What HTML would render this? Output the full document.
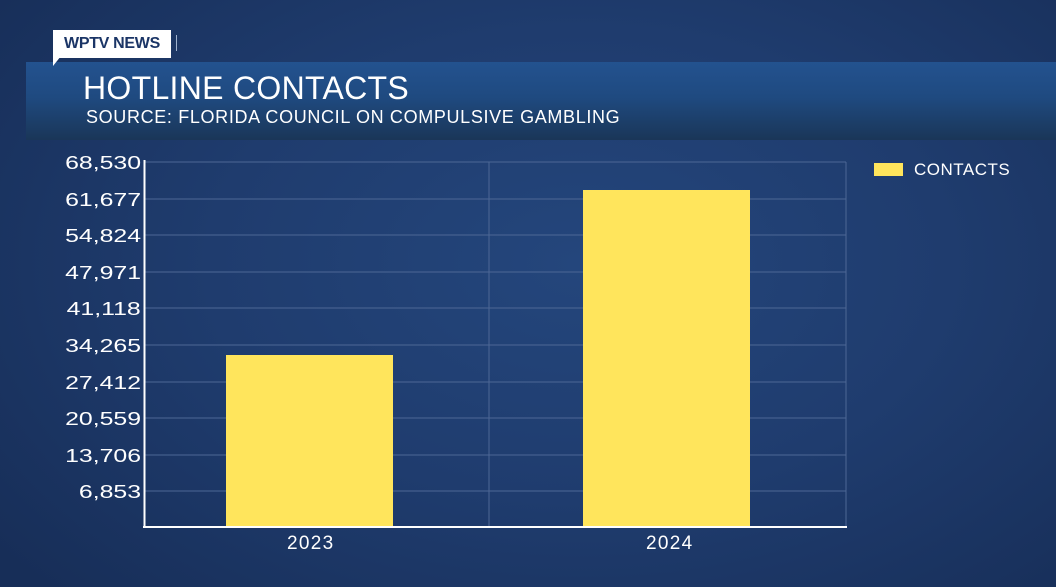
<!DOCTYPE html>
<html><head><style>
html,body{margin:0;padding:0}
body{width:1056px;height:587px;overflow:hidden;position:relative;font-family:"Liberation Sans",sans-serif;
background:radial-gradient(ellipse 70% 80% at 55% 45%,#24467c 0%,#1f3c6e 50%,#172e58 100%);}
.banner{position:absolute;left:26px;top:62px;width:1030px;height:78px;
background:linear-gradient(180deg,#23528f 0%,#1f4a80 45%,#1a3658 100%);}
.tag{position:absolute;left:53px;top:30px;width:118px;height:28px;background:#fff;color:#1b3566;font-weight:bold;font-size:16px;line-height:28px;text-align:center;letter-spacing:-0.3px}
.tail{position:absolute;left:53px;top:56px;width:0;height:0;border-left:8px solid #fff;border-bottom:10px solid transparent}
.bar1{position:absolute;left:176px;top:35px;width:1px;height:16px;background:#9fb2cf}
.t1{position:absolute;left:83px;top:70px;color:#fff;font-size:32px;letter-spacing:0.3px}
.t2{position:absolute;left:86px;top:107px;color:#fff;font-size:18px;letter-spacing:0.65px}
.yl{position:absolute;right:915px;color:#fff;font-size:18px;text-align:right;transform:scaleX(1.38);transform-origin:right center}
.xl{position:absolute;color:#fff;font-size:19px;top:533px;letter-spacing:1.3px}
</style></head><body>
<div class="banner"></div>
<div class="tag">WPTV NEWS</div><div class="tail"></div><div class="bar1"></div>
<div class="t1">HOTLINE CONTACTS</div>
<div class="t2">SOURCE: FLORIDA COUNCIL ON COMPULSIVE GAMBLING</div>
<svg width="1056" height="587" style="position:absolute;left:0;top:0">
<g stroke="#4d6795" stroke-width="1">
<line x1="144" y1="162" x2="846" y2="162"/><line x1="144" y1="199" x2="846" y2="199"/>
<line x1="144" y1="235" x2="846" y2="235"/><line x1="144" y1="272" x2="846" y2="272"/>
<line x1="144" y1="308" x2="846" y2="308"/><line x1="144" y1="345" x2="846" y2="345"/>
<line x1="144" y1="382" x2="846" y2="382"/><line x1="144" y1="418" x2="846" y2="418"/>
<line x1="144" y1="455" x2="846" y2="455"/><line x1="144" y1="491" x2="846" y2="491"/>
<line x1="489" y1="162" x2="489" y2="527"/><line x1="846" y1="162" x2="846" y2="527"/>
</g>
<rect x="226" y="355" width="167" height="172" fill="#ffe55c"/>
<rect x="583" y="190" width="167" height="337" fill="#ffe55c"/>
<line x1="144.5" y1="160" x2="144.5" y2="528" stroke="#fff" stroke-width="2"/>
<line x1="143" y1="527" x2="847" y2="527" stroke="#fff" stroke-width="2"/>
<rect x="874" y="163" width="29" height="13" fill="#ffe55c"/>
</svg>
<div class="yl" style="top:153px">68,530</div>
<div class="yl" style="top:190px">61,677</div>
<div class="yl" style="top:226px">54,824</div>
<div class="yl" style="top:263px">47,971</div>
<div class="yl" style="top:299px">41,118</div>
<div class="yl" style="top:336px">34,265</div>
<div class="yl" style="top:373px">27,412</div>
<div class="yl" style="top:409px">20,559</div>
<div class="yl" style="top:446px">13,706</div>
<div class="yl" style="top:482px">6,853</div>
<div class="xl" style="left:287px">2023</div>
<div class="xl" style="left:646px">2024</div>
<div style="position:absolute;left:914px;top:160px;color:#fff;font-size:17px;letter-spacing:0.5px">CONTACTS</div>
</body></html>
